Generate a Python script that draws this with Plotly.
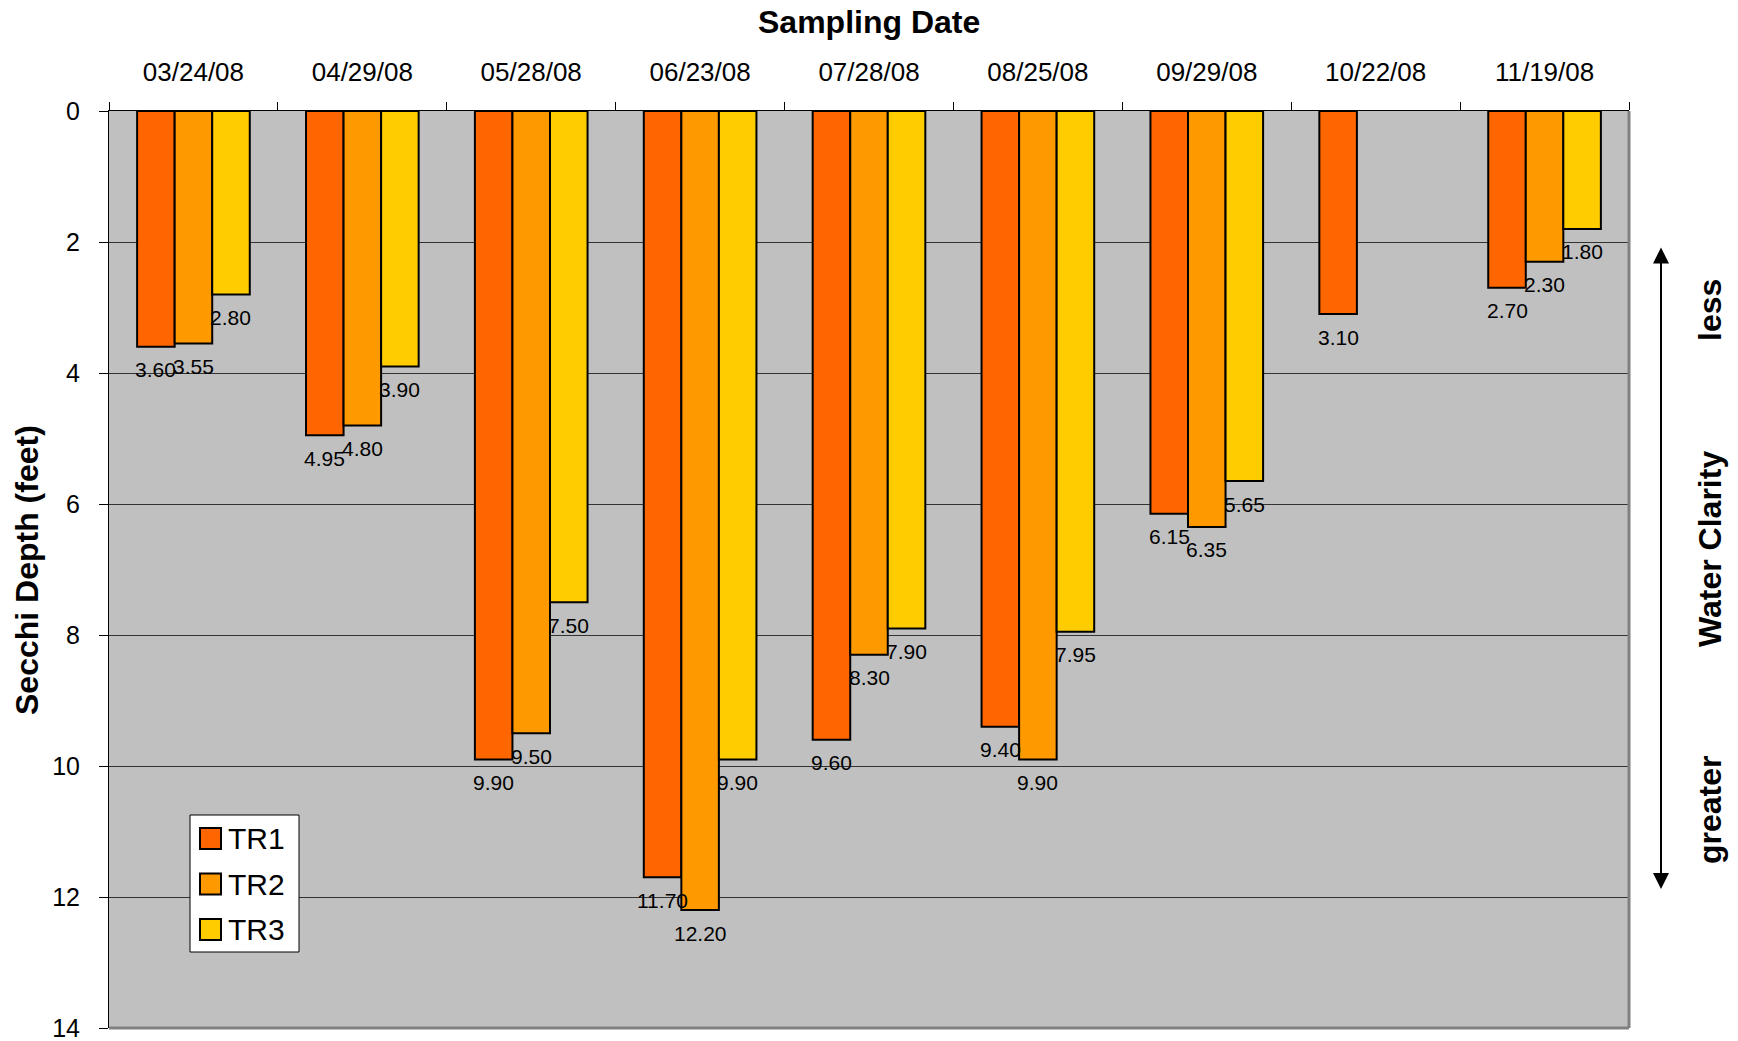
import plotly.graph_objects as go

dates = ["03/24/08", "04/29/08", "05/28/08", "06/23/08", "07/28/08",
         "08/25/08", "09/29/08", "10/22/08", "11/19/08"]
tr1 = [3.60, 4.95, 9.90, 11.70, 9.60, 9.40, 6.15, 3.10, 2.70]
tr2 = [3.55, 4.80, 9.50, 12.20, 8.30, 9.90, 6.35, None, 2.30]
tr3 = [2.80, 3.90, 7.50, 9.90, 7.90, 7.95, 5.65, None, 1.80]
series_names = ["TR1", "TR2", "TR3"]
series_values = [tr1, tr2, tr3]
series_colors = ["#FF6600", "#FF9900", "#FFCC00"]
y_ticks = [0, 2, 4, 6, 8, 10, 12, 14]

FONT = "Liberation Sans, Arial, sans-serif"
W, H = 1738, 1041
ML, MR, MT, MB = 109, 109, 111, 13
PW = W - ML - MR
PH = H - MT - MB
BARGAP = 0.333


def px(X):
    return (X - ML) / PW


def py(Y):
    return (H - MB - Y) / PH


fig = go.Figure()
for name, vals, color in zip(series_names, series_values, series_colors):
    fig.add_trace(go.Bar(
        name=name, x=dates, y=vals, showlegend=False,
        marker=dict(color=color, line=dict(color="black", width=2)),
    ))

fig.update_layout(
    width=W, height=H,
    margin=dict(l=ML, r=MR, t=MT, b=MB, autoexpand=False),
    paper_bgcolor="white", plot_bgcolor="#C0C0C0",
    barmode="group", bargap=BARGAP, bargroupgap=0,
    font=dict(family=FONT, color="black"),
    showlegend=False,
)

fig.update_xaxes(side="top", type="category", tickson="boundaries",
                 ticks="outside", ticklen=8, tickcolor="black",
                 showline=True, linecolor="black", linewidth=1,
                 showgrid=False, ticklabelstandoff=19, automargin=False,
                 tickfont=dict(family=FONT, size=26, color="black"))
fig.update_yaxes(range=[14, 0], tickvals=y_ticks, ticks="outside", ticklen=9,
                 tickcolor="black", showline=True, linecolor="black", linewidth=1,
                 showgrid=True, gridcolor="#333333", gridwidth=1, zeroline=False,
                 ticklabelstandoff=14, ticklabeloverflow="allow", automargin=False,
                 tickfont=dict(family=FONT, size=25, color="black"))

# data labels under each bar end
n_series = len(series_names)
bar_w = PW / len(dates) * (1 - BARGAP) / n_series
for i, vals in enumerate(series_values):
    for d, v in zip(dates, vals):
        if v is None:
            continue
        fig.add_annotation(text="%.2f" % v, x=d, y=v, xref="x", yref="y",
                           xshift=(i - (n_series - 1) / 2) * bar_w, yshift=-23,
                           showarrow=False, xanchor="center", yanchor="middle",
                           font=dict(family=FONT, size=21, color="black"))

# plot-area shadow border (right & bottom)
fig.add_shape(type="line", xref="paper", yref="paper", x0=1, x1=1, y0=0, y1=1,
              line=dict(color="#808080", width=3))
fig.add_shape(type="line", xref="paper", yref="paper", x0=0, x1=1, y0=0, y1=0,
              line=dict(color="#808080", width=3))

# title
fig.add_annotation(text="<b>Sampling Date</b>", xref="paper", yref="paper",
                   x=0.5, y=py(22), showarrow=False, xanchor="center", yanchor="middle",
                   font=dict(family=FONT, size=32, color="black"))
# y title
fig.add_annotation(text="<b>Secchi Depth (feet)</b>", xref="paper", yref="paper",
                   x=px(27), y=py(570), textangle=-90,
                   showarrow=False, xanchor="center", yanchor="middle",
                   font=dict(family=FONT, size=32, color="black"))

# manual legend
fig.add_shape(type="rect", xref="paper", yref="paper",
              x0=px(190), x1=px(299), y0=py(952), y1=py(815),
              fillcolor="white", line=dict(color="black", width=1))
for k, (name, color) in enumerate(zip(series_names, series_colors)):
    yc = 838.5 + 45.5 * k
    fig.add_shape(type="rect", xref="paper", yref="paper",
                  x0=px(200), x1=px(221), y0=py(yc + 10.5), y1=py(yc - 10.5),
                  fillcolor=color, line=dict(color="black", width=2))
    fig.add_annotation(text=name, xref="paper", yref="paper", x=px(226), y=py(yc),
                       showarrow=False, xanchor="left", yanchor="middle",
                       font=dict(family=FONT, size=30, color="black"))

# double arrow
fig.add_annotation(text="", xref="x domain", yref="y domain",
                   x=px(1661), y=py(889),
                   axref="x domain", ayref="y domain",
                   ax=px(1661), ay=py(246),
                   showarrow=True, arrowhead=2, arrowside="end+start",
                   arrowsize=1.6, arrowwidth=2, arrowcolor="black")

for txt, yc in [("less", 310), ("Water Clarity", 549), ("greater", 809)]:
    fig.add_annotation(text="<b>%s</b>" % txt, xref="paper", yref="paper",
                       x=px(1710), y=py(yc), textangle=-90,
                       showarrow=False, xanchor="center", yanchor="middle",
                       font=dict(family=FONT, size=32, color="black"))

fig.write_html("out.html", config={"displayModeBar": False},
               post_script="document.body.style.margin='0';")
